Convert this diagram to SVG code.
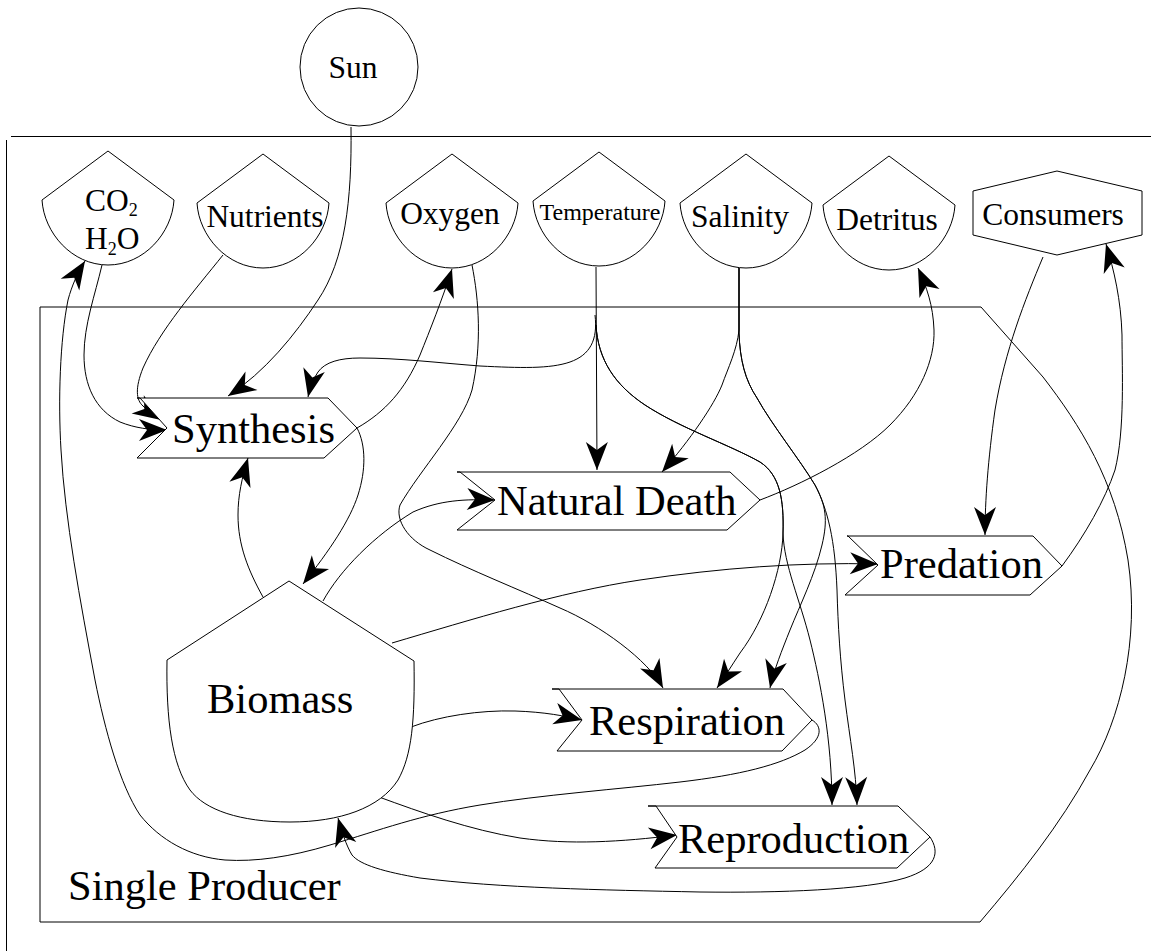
<svg xmlns="http://www.w3.org/2000/svg" width="1151" height="951" viewBox="0 0 1151 951">
<style>
.ln{fill:none;stroke:#000;stroke-width:1}
.cn{fill:none;stroke:#000;stroke-width:1;marker-end:url(#ah)}
.nd{fill:#fff;stroke:#000;stroke-width:1}
.sm{font-family:"Liberation Serif","Times New Roman",serif;font-size:31.5px;fill:#000}
.lg{font-family:"Liberation Serif","Times New Roman",serif;font-size:42.5px;fill:#000}
</style>
<defs>
<marker id="ah" viewBox="-30 -12 32 24" refX="0" refY="0" markerWidth="32" markerHeight="24" markerUnits="userSpaceOnUse" orient="auto">
<path d="M0,0 L-28,-11 L-20,0 L-28,11 Z" fill="#000"/>
</marker>
<path id="stock" d="M0,0 L66,49 C64,82 36,114 0,114 C-36,114 -64,82 -66,49 Z"/>
</defs>
<rect width="1151" height="951" fill="#fff"/>
<g id="frame">
<path class="ln" d="M11,136.5 H1151"/>
<path class="ln" d="M6.5,140 V951"/>
</g>
<g id="single-producer">
<path class="ln" d="M40,307 L981,307 L1043,377 C1080,425 1115,480 1128,560 C1140,640 1120,720 1090,770 C1060,825 1020,875 980,922 L40,922 Z"/>
<text class="lg" x="68" y="900">Single Producer</text>
</g>
<g id="connectors">
<path class="cn" d="M351,127 C352,200 345,260 318,300 C295,335 265,372 228,396"/>
<path class="cn" d="M102,265 C95,295 84,325 84,355 C84,385 95,410 120,422 C135,428 150,430 167,430"/>
<path class="cn" d="M223,255 C195,290 160,330 143,368 C135,388 136,400 143,406 C149,412 155,416 161,420"/>
<path class="cn" d="M357,428 C385,412 405,390 420,355 C430,330 442,300 452,269"/>
<path class="cn" d="M357,428 C366,445 366,470 358,495 C350,520 330,550 303,584"/>
<path class="cn" d="M263,597 C248,570 238,545 238,515 C238,495 242,478 248,458"/>
<path class="cn" d="M323,601 C340,570 375,535 413,512 C440,500 465,499 495,500"/>
<path class="cn" d="M595,315 C598,340 590,355 570,362 C550,369 520,368 480,366 C440,363 400,358 360,358 C340,358 325,362 318,372 C313,379 310,388 308,397"/>
<path class="cn" d="M596,267 L597,470"/>
<path class="cn" d="M596,325 C598,360 615,385 645,405 C680,428 730,445 760,462 C780,475 784,500 783,533 C782,570 765,620 740,653 C732,665 724,678 717,688"/>
<path class="cn" d="M596,325 C598,360 615,385 645,405 C680,428 730,445 760,462 C780,475 784,500 783,533 C784,565 800,600 810,640 C820,680 832,740 832,805"/>
<path class="cn" d="M739,268 L739,330 C737,350 728,368 722,385 C714,405 690,440 662,472"/>
<path class="cn" d="M739,268 L739,333 C740,360 745,380 757,398 C772,425 800,460 815,485 C826,505 828,520 822,545 C815,575 800,605 790,630 C782,650 774,670 770,688"/>
<path class="cn" d="M739,268 L739,333 C740,360 745,380 757,398 C772,425 800,460 815,485 C828,510 835,540 837,590 C838,625 840,660 845,700 C850,740 856,770 857,805"/>
<path class="cn" d="M472,265 C479,300 482,345 472,390 C462,425 420,470 400,505 C395,520 408,540 430,550 C470,570 520,590 560,608 C600,625 648,660 663,688"/>
<path class="cn" d="M392,643 C470,620 560,592 640,580 C720,568 800,562 878,564"/>
<path class="cn" d="M411,727 C440,716 480,710 515,711 C545,712 565,716 582,720"/>
<path class="cn" d="M379,797 C420,812 470,830 520,838 C570,845 620,842 677,835"/>
<path class="cn" d="M812,720 C822,726 823,738 805,750 C780,765 740,775 680,782 C620,789 540,795 480,805 C420,815 380,830 330,845 C290,857 255,862 225,860 C190,857 160,840 140,815 C120,785 105,730 95,680 C80,600 65,520 61,450 C58,400 60,340 68,300 C72,285 78,272 85,261"/>
<path class="cn" d="M930,837 C940,852 937,868 905,878 C865,890 780,893 700,892 C600,890 500,888 420,878 C385,872 360,865 352,855 C346,845 342,832 338,818"/>
<path class="cn" d="M760,500 C800,485 860,455 890,425 C920,395 935,360 934,330 C933,305 927,288 918,268"/>
<path class="cn" d="M1043,257 C1025,300 1005,350 995,410 C988,460 985,500 985,535"/>
<path class="cn" d="M1062,566 C1085,535 1105,500 1115,470 C1125,430 1122,370 1122,335 C1121,300 1114,270 1106,244"/>
</g>
<g id="sun">
<circle class="nd" cx="359" cy="67" r="59"/>
<text class="sm" x="353" y="78" text-anchor="middle">Sun</text>
</g>
<g id="co2-h2o">
<use href="#stock" class="nd" x="108" y="151"/>
<text class="sm" x="85" y="211">CO<tspan font-size="18" dy="5">2</tspan><tspan x="85" dy="33">H</tspan><tspan font-size="18" dy="6">2</tspan><tspan dy="-6">O</tspan></text>
</g>
<g id="nutrients">
<use href="#stock" class="nd" x="263" y="154"/>
<text class="sm" x="265" y="227" text-anchor="middle">Nutrients</text>
</g>
<g id="oxygen">
<use href="#stock" class="nd" x="452" y="154"/>
<text class="sm" x="450" y="224" text-anchor="middle">Oxygen</text>
</g>
<g id="temperature">
<use href="#stock" class="nd" x="599" y="152"/>
<text class="sm" x="600" y="220" text-anchor="middle" style="font-size:24px">Temperature</text>
</g>
<g id="salinity">
<use href="#stock" class="nd" x="746" y="154"/>
<text class="sm" x="740" y="227" text-anchor="middle">Salinity</text>
</g>
<g id="detritus">
<use href="#stock" class="nd" x="889" y="156"/>
<text class="sm" x="887" y="230" text-anchor="middle">Detritus</text>
</g>
<g id="consumers">
<polygon class="nd" points="973,191 1057,171 1142,191 1142,235 1057,255 973,235"/>
<text class="sm" x="1053" y="225" text-anchor="middle">Consumers</text>
</g>
<g id="synthesis">
<polygon class="nd" points="137,398 328,398 357,428 324,458 137,458 167,428 140,398"/>
<text class="lg" x="172" y="443">Synthesis</text>
</g>
<g id="natural-death">
<polygon class="nd" points="457,472 730,472 760,500 727,530 457,530 495,500 460,472"/>
<text class="lg" x="497" y="515">Natural Death</text>
</g>
<g id="predation">
<polygon class="nd" points="847,536 1033,536 1062,566 1030,595 845,595 878,565 848,536"/>
<text class="lg" x="880" y="578">Predation</text>
</g>
<g id="respiration">
<polygon class="nd" points="552,689 783,689 812,720 782,751 557,751 582,720 559,689"/>
<text class="lg" x="589" y="735">Respiration</text>
</g>
<g id="reproduction">
<polygon class="nd" points="648,806 898,806 930,837 897,868 655,868 677,837 656,806"/>
<text class="lg" x="678" y="853">Reproduction</text>
</g>
<g id="biomass">
<path class="nd" d="M289,581 L414,661 C415,720 412,755 398,780 C380,808 340,822 290,822 C240,822 205,810 190,790 C172,765 166,720 167,660 Z"/>
<text class="lg" x="207" y="713">Biomass</text>
</g>
</svg>
